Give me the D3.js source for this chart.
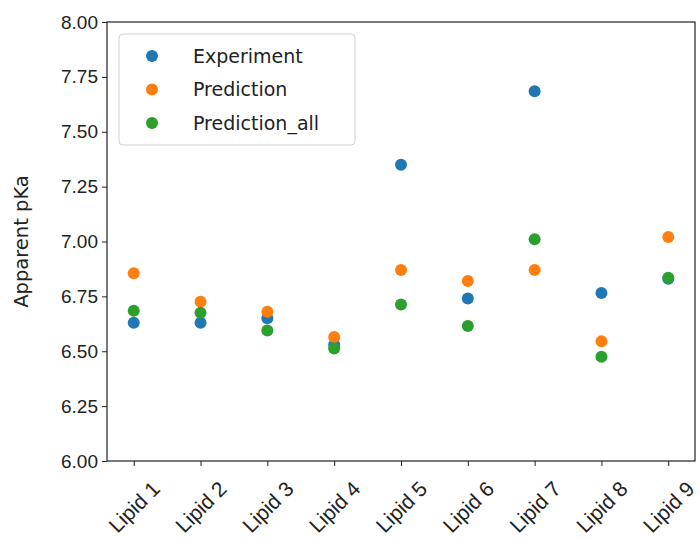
<!DOCTYPE html>
<html>
<head>
<meta charset="utf-8">
<script src="https://cdnjs.cloudflare.com/ajax/libs/d3/7.8.5/d3.min.js"></script>
<style>
  body { margin: 0; background: #fff; }
  svg { font-family: "DejaVu Sans", sans-serif; }
</style>
</head>
<body>
<svg id="chart" width="700" height="540"></svg>
<script>
const lipids = ["Lipid 1", "Lipid 2", "Lipid 3", "Lipid 4", "Lipid 5", "Lipid 6", "Lipid 7", "Lipid 8", "Lipid 9"];
const experiment = [6.63, 6.63, 6.65, 6.53, 7.35, 6.74, 7.685, 6.765, 6.83];
const prediction = [6.855, 6.725, 6.68, 6.565, 6.87, 6.82, 6.87, 6.545, 7.02];
const predictionAll = [6.685, 6.675, 6.595, 6.513, 6.713, 6.615, 7.01, 6.475, 6.835];
const yTicks = [6.0, 6.25, 6.5, 6.75, 7.0, 7.25, 7.5, 7.75, 8.0];

const series = [
  { name: "Experiment", values: experiment, color: "#1f77b4" },
  { name: "Prediction", values: prediction, color: "#ff7f0e" },
  { name: "Prediction_all", values: predictionAll, color: "#2ca02c" },
];

const margin = { top: 22, right: 5, bottom: 79, left: 107 };
const width = 700 - margin.left - margin.right;
const height = 540 - margin.top - margin.bottom;

const svg = d3.select("#chart")
  .append("g")
  .attr("transform", "translate(" + margin.left + "," + margin.top + ")");

// matplotlib style 5% margins on the category axis
const x = d3.scaleLinear()
  .domain([-0.4, lipids.length - 1 + 0.4])
  .range([0, width]);

const y = d3.scaleLinear().domain([6, 8]).range([height, 0]);

const yAxis = svg.append("g")
  .call(d3.axisLeft(y).tickValues(yTicks).tickFormat(d3.format(".2f")).tickSize(5).tickPadding(4));

const xAxis = svg.append("g")
  .attr("transform", "translate(0," + height + ")")
  .call(d3.axisBottom(x).tickValues(d3.range(lipids.length)).tickFormat((i) => lipids[i]).tickSize(5));

[xAxis, yAxis].forEach((ax) => {
  ax.select(".domain").remove();
  ax.selectAll("line").attr("stroke", "#222").attr("stroke-width", 1);
  ax.selectAll("text").attr("fill", "#222").style("font-size", "19px");
});

// labels rotated about their centre, like matplotlib rotation=45
xAxis.selectAll("text")
  .attr("text-anchor", "middle")
  .attr("dy", "0.35em")
  .attr("transform", "translate(0,46) rotate(-45)")
  .attr("x", 0)
  .attr("y", 0)
  .style("font-size", "21px");

// frame
svg.append("rect")
  .attr("width", width)
  .attr("height", height)
  .attr("fill", "none")
  .attr("stroke", "#222")
  .attr("stroke-width", 1.2);

svg.append("text")
  .attr("transform", "translate(" + (-79) + "," + height / 2 + ") rotate(-90)")
  .attr("text-anchor", "middle")
  .attr("fill", "#222")
  .style("font-size", "19.5px")
  .text("Apparent pKa");

series.forEach((s) => {
  svg.append("g")
    .selectAll("circle")
    .data(s.values)
    .join("circle")
    .attr("cx", (d, i) => x(i))
    .attr("cy", (d) => y(d))
    .attr("r", 6)
    .attr("fill", s.color);
});

// legend
const legend = svg.append("g").attr("transform", "translate(12,12)");
legend.append("rect")
  .attr("width", 236)
  .attr("height", 111)
  .attr("rx", 4)
  .attr("fill", "#fff")
  .attr("fill-opacity", 0.8)
  .attr("stroke", "#d0d0d0");

series.forEach((s, i) => {
  const row = legend.append("g").attr("transform", "translate(0," + (22 + i * 33.5) + ")");
  row.append("circle").attr("cx", 33).attr("cy", 0).attr("r", 6).attr("fill", s.color);
  row.append("text")
    .attr("x", 74)
    .attr("y", 0)
    .attr("dy", "0.35em")
    .attr("fill", "#222")
    .style("font-size", "19px")
    .text(s.name);
});
</script>
</body>
</html>
